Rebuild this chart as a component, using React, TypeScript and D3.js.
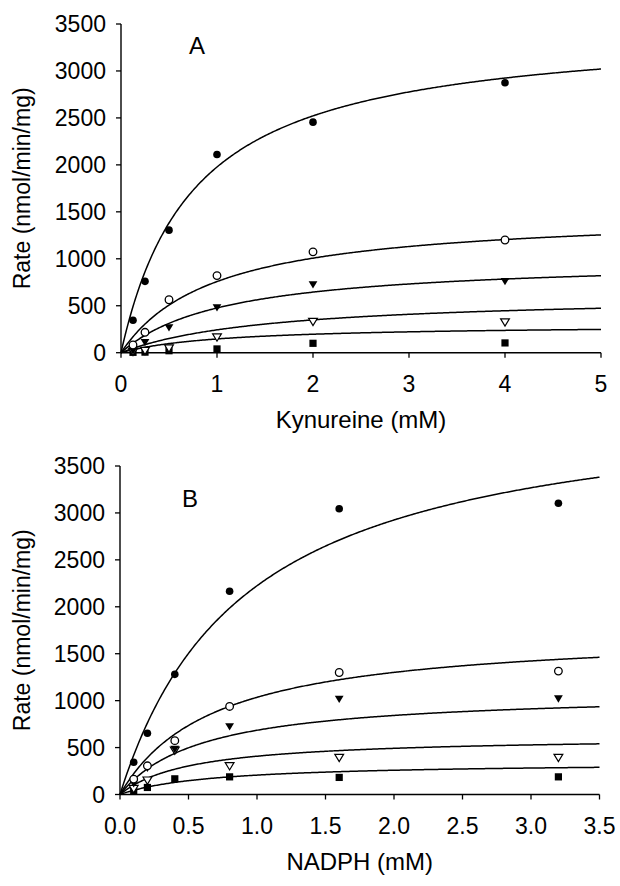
import React from 'react';
import * as d3 from 'd3';

const W = 620;
const H = 886;

// Panel A: Kynureine
const kynX = [0.125, 0.25, 0.5, 1, 2, 4];
const kynFilledCircle = [345, 760, 1305, 2110, 2455, 2875];
const kynOpenCircle = [82, 217, 564, 821, 1074, 1200];
const kynFilledTriangle = [21, 110, 266, 479, 725, 760];
const kynOpenTriangle = [10, 21, 47, 164, 330, 325];
const kynFilledSquare = [4, 6, 21, 40, 100, 104];
const kynFitVmax = [3480, 1500, 1000, 620, 300];
const kynFitKm = [0.76, 0.98, 1.1, 1.55, 1.05];
const kynXTicks = [0, 1, 2, 3, 4, 5];
const kynXTickLabels = ['0', '1', '2', '3', '4', '5'];

// Panel B: NADPH
const nadX = [0.1, 0.2, 0.4, 0.8, 1.6, 3.2];
const nadFilledCircle = [343, 653, 1280, 2165, 3045, 3103];
const nadOpenCircle = [164, 306, 574, 938, 1300, 1315];
const nadFilledTriangle = [115, 280, 482, 724, 1017, 1020];
const nadOpenTriangle = [60, 150, 470, 303, 392, 392];
const nadFilledSquare = [35, 75, 167, 188, 182, 188];
const nadFitVmax = [4270, 1750, 1095, 620, 345];
const nadFitKm = [0.92, 0.69, 0.6, 0.52, 0.67];
const nadXTicks = [0, 0.5, 1, 1.5, 2, 2.5, 3, 3.5];
const nadXTickLabels = ['0.0', '0.5', '1.0', '1.5', '2.0', '2.5', '3.0', '3.5'];

const rateTicks = [0, 500, 1000, 1500, 2000, 2500, 3000, 3500];
const rateTickLabels = ['0', '500', '1000', '1500', '2000', '2500', '3000', '3500'];

const markerTypes = ['filledCircle', 'openCircle', 'filledTriangle', 'openTriangle', 'filledSquare'];

const FONT = "'Liberation Sans', Arial, Helvetica, sans-serif";

function Marker({ type, x, y }: { type: string; x: number; y: number }) {
  const r = 3.8;
  if (type === 'filledCircle') return <circle cx={x} cy={y} r={r} fill="#000" />;
  if (type === 'openCircle') return <circle cx={x} cy={y} r={r} fill="#fff" stroke="#000" strokeWidth={1.3} />;
  if (type === 'filledSquare') return <rect x={x - 3.6} y={y - 3.6} width={7.2} height={7.2} fill="#000" />;
  const tri = d3.path();
  tri.moveTo(x - 4.4, y - 3.4);
  tri.lineTo(x + 4.4, y - 3.4);
  tri.lineTo(x, y + 3.9);
  tri.closePath();
  if (type === 'filledTriangle') return <path d={tri.toString()} fill="#000" />;
  return <path d={tri.toString()} fill="#fff" stroke="#000" strokeWidth={1.2} />;
}

interface PanelProps {
  left: number;
  right: number;
  top: number;
  bottom: number;
  xMax: number;
  xs: number[];
  series: number[][];
  vmax: number[];
  km: number[];
  xTicks: number[];
  xTickLabels: string[];
  xTitle: string;
  letter: string;
  letterX: number;
  letterY: number;
}

function Panel(p: PanelProps) {
  const x = d3.scaleLinear().domain([0, p.xMax]).range([p.left, p.right]);
  const y = d3.scaleLinear().domain([0, 3500]).range([p.bottom, p.top]);
  const samples = d3.range(0, 401).map((i) => (i / 400) * p.xMax);
  const line = d3
    .line<number>()
    .x((d) => x(d))
    .curve(d3.curveLinear);
  return (
    <g>
      {p.vmax.map((v, i) => (
        <path
          key={'c' + i}
          d={line.y((d) => y((v * d) / (p.km[i] + d)))(samples) || ''}
          fill="none"
          stroke="#000"
          strokeWidth={1.5}
        />
      ))}
      <line x1={p.left} x2={p.left} y1={p.top} y2={p.bottom} stroke="#000" strokeWidth={1.4} />
      <line x1={p.left} x2={p.right} y1={p.bottom} y2={p.bottom} stroke="#000" strokeWidth={1.4} />
      {rateTicks.map((t, i) => (
        <g key={'yt' + i}>
          <line x1={p.left - 5} x2={p.left} y1={y(t)} y2={y(t)} stroke="#000" strokeWidth={1.3} />
          <text
            x={p.left - 15}
            y={y(t)}
            dy="0.36em"
            textAnchor="end"
            fontFamily={FONT}
            fontSize={23}
            fill="#000"
          >
            {rateTickLabels[i]}
          </text>
        </g>
      ))}
      {p.xTicks.map((t, i) => (
        <g key={'xt' + i}>
          <line x1={x(t)} x2={x(t)} y1={p.bottom} y2={p.bottom + 5} stroke="#000" strokeWidth={1.3} />
          <text
            x={x(t)}
            y={p.bottom + 39}
            textAnchor="middle"
            fontFamily={FONT}
            fontSize={23}
            fill="#000"
          >
            {p.xTickLabels[i]}
          </text>
        </g>
      ))}
      {p.series
        .map((vals, si) => ({ vals, si }))
        .reverse()
        .map(({ vals, si }) =>
          vals.map((v, j) => (
            <Marker key={'m' + si + '-' + j} type={markerTypes[si]} x={x(p.xs[j])} y={y(v)} />
          ))
        )}
      <text
        x={(p.left + p.right) / 2}
        y={p.bottom + 75}
        textAnchor="middle"
        fontFamily={FONT}
        fontSize={24}
        fill="#000"
      >
        {p.xTitle}
      </text>
      <text
        transform={`translate(30, ${(p.top + p.bottom) / 2}) rotate(-90)`}
        textAnchor="middle"
        fontFamily={FONT}
        fontSize={23}
        fill="#000"
      >
        Rate (nmol/min/mg)
      </text>
      <text x={p.letterX} y={p.letterY} textAnchor="middle" fontFamily={FONT} fontSize={24} fill="#000">
        {p.letter}
      </text>
    </g>
  );
}

export default function App() {
  return (
    <svg
      width={W}
      height={H}
      viewBox={`0 0 ${W} ${H}`}
      style={{ position: 'absolute', left: 0, top: 0, background: '#fff' }}
    >
      <rect x={0} y={0} width={W} height={H} fill="#fff" />
      <Panel
        left={121}
        right={601}
        top={24}
        bottom={352.7}
        xMax={5}
        xs={kynX}
        series={[kynFilledCircle, kynOpenCircle, kynFilledTriangle, kynOpenTriangle, kynFilledSquare]}
        vmax={kynFitVmax}
        km={kynFitKm}
        xTicks={kynXTicks}
        xTickLabels={kynXTickLabels}
        xTitle="Kynureine (mM)"
        letter="A"
        letterX={197}
        letterY={54}
      />
      <Panel
        left={120}
        right={599.5}
        top={466}
        bottom={794.5}
        xMax={3.5}
        xs={nadX}
        series={[nadFilledCircle, nadOpenCircle, nadFilledTriangle, nadOpenTriangle, nadFilledSquare]}
        vmax={nadFitVmax}
        km={nadFitKm}
        xTicks={nadXTicks}
        xTickLabels={nadXTickLabels}
        xTitle="NADPH (mM)"
        letter="B"
        letterX={190}
        letterY={507}
      />
    </svg>
  );
}
